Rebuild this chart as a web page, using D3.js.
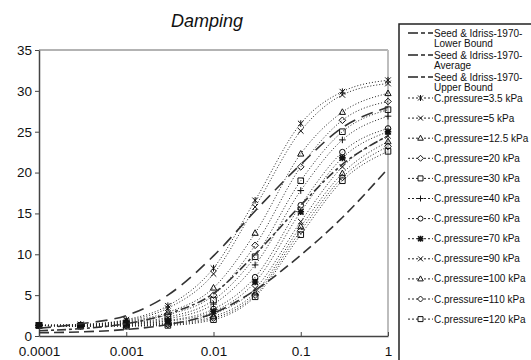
<!DOCTYPE html>
<html><head><meta charset="utf-8">
<script src="https://cdn.jsdelivr.net/npm/d3@7"></script>
<style>body{margin:0;background:#fff}svg{display:block;font-family:"Liberation Sans",Arial,sans-serif}</style>
</head><body><svg id="c" width="531" height="360"></svg>
<script>
const strains = [0.0001, 0.0003, 0.001, 0.003, 0.01, 0.03, 0.1, 0.3, 1];
const xTicks = [0.0001, 0.001, 0.01, 0.1, 1];
const xTickLabels = ["0.0001", "0.001", "0.01", "0.1", "1"];
const yTicks = [0, 5, 10, 15, 20, 25, 30, 35];

const seedLower   = [0.4, 0.5, 0.8, 1.4, 2.8, 5.6, 9.9, 14.5, 20.5];
const seedAverage = [0.65, 0.9, 1.5, 2.7, 5.2, 10.0, 16.0, 21.0, 24.5];
const seedUpper   = [0.95, 1.5, 2.5, 5.0, 9.8, 15.3, 21.0, 25.5, 28.0];
const seedNames = ["Seed & Idriss-1970-|Lower Bound", "Seed & Idriss-1970-|Average", "Seed & Idriss-1970-|Upper Bound"];

const cpNames = ["C.pressure=3.5 kPa", "C.pressure=5 kPa", "C.pressure=12.5 kPa", "C.pressure=20 kPa",
  "C.pressure=30 kPa", "C.pressure=40 kPa", "C.pressure=60 kPa", "C.pressure=70 kPa",
  "C.pressure=90 kPa", "C.pressure=100 kPa", "C.pressure=110 kPa", "C.pressure=120 kPa"];
const cpMarkers = ["star", "x", "triangle", "diamond", "square", "plus", "circle", "asterisk", "x", "triangle", "diamond", "square"];
const cp3_5 = [1.3, 1.4, 2.0, 3.7, 8.3, 16.6, 26.0, 29.9, 31.3];
const cp5   = [1.3, 1.4, 1.9, 3.4, 7.6, 15.8, 25.1, 29.5, 30.9];
const cp12_5= [1.3, 1.35, 1.8, 2.9, 5.9, 12.6, 22.3, 27.4, 29.7];
const cp20  = [1.3, 1.3, 1.7, 2.6, 5.0, 11.1, 20.7, 26.4, 28.7];
const cp30  = [1.3, 1.3, 1.6, 2.3, 4.4, 9.7, 19.0, 25.0, 27.7];
const cp40  = [1.3, 1.3, 1.55, 2.1, 3.9, 8.7, 17.8, 24.0, 26.9];
const cp60  = [1.3, 1.25, 1.5, 1.9, 3.3, 7.2, 16.0, 22.5, 25.4];
const cp70  = [1.3, 1.25, 1.45, 1.8, 3.0, 6.6, 15.2, 21.8, 25.0];
const cp90  = [1.3, 1.2, 1.4, 1.6, 2.7, 5.8, 14.0, 20.7, 24.5];
const cp100 = [1.3, 1.2, 1.3, 1.5, 2.4, 5.3, 13.4, 19.9, 23.8];
const cp110 = [1.3, 1.2, 1.25, 1.4, 2.2, 5.0, 12.9, 19.4, 23.2];
const cp120 = [1.3, 1.2, 1.2, 1.3, 2.0, 4.8, 12.4, 19.0, 22.6];
const cpValues = [cp3_5, cp5, cp12_5, cp20, cp30, cp40, cp60, cp70, cp90, cp100, cp110, cp120];

const svg = d3.select("#c");
const L = 39, R = 388, T = 50, B = 336;
const x = d3.scaleLog().domain([0.0001, 1]).range([L, R]);
const y = d3.scaleLinear().domain([0, 35]).range([B, T]);

// title
svg.append("text").attr("x", 207).attr("y", 27).attr("text-anchor", "middle")
  .attr("font-size", 18).attr("font-style", "italic").attr("fill", "#111").text("Damping");

// plot frame (top & right gray)
svg.append("line").attr("x1", L).attr("x2", R).attr("y1", T).attr("y2", T).attr("stroke", "#9a9a9a").attr("stroke-width", 1.5);
svg.append("line").attr("x1", R).attr("x2", R).attr("y1", T).attr("y2", B).attr("stroke", "#bdbdbd").attr("stroke-width", 2);

// axes
const yAxis = svg.append("g").attr("transform", `translate(${L},0)`)
  .call(d3.axisLeft(y).tickValues(yTicks).tickSize(4).tickSizeOuter(0).tickPadding(3));
const xAxis = svg.append("g").attr("transform", `translate(0,${B})`)
  .call(d3.axisBottom(x).tickValues(xTicks).tickFormat((d, i) => xTickLabels[i]).tickSize(-4).tickSizeOuter(0).tickPadding(10));
[yAxis, xAxis].forEach(g => {
  g.selectAll("path.domain").attr("stroke", "#444").attr("stroke-width", 1.5);
  g.selectAll(".tick line").attr("stroke", "#444");
  g.selectAll("text").attr("font-size", 13.5).attr("fill", "#111").attr("font-family", "Liberation Sans, Arial, sans-serif");
});

const line = d3.line().x((d, i) => x(strains[i])).y(d => y(d)).curve(d3.curveMonotoneX);

function markerPath(type, s) {
  switch (type) {
    case "star": return `M${-s},${-s}L${s},${s}M${-s},${s}L${s},${-s}M0,${-s - 0.5}L0,${s + 0.5}`;
    case "x": return `M${-s},${-s}L${s},${s}M${-s},${s}L${s},${-s}`;
    case "triangle": return `M0,${-s - 0.5}L${s + 0.3},${s - 0.5}L${-s - 0.3},${s - 0.5}Z`;
    case "diamond": return `M0,${-s - 0.5}L${s + 0.5},0L0,${s + 0.5}L${-s - 0.5},0Z`;
    case "square": return `M${-s},${-s}H${s}V${s}H${-s}Z`;
    case "plus": return `M${-s - 0.5},0H${s + 0.5}M0,${-s - 0.5}V${s + 0.5}`;
    case "circle": return `M${s},0A${s},${s} 0 1,1 ${-s},0A${s},${s} 0 1,1 ${s},0Z`;
    case "asterisk": return `M${-s},${-s}L${s},${s}M${-s},${s}L${s},${-s}M0,${-s - 0.5}L0,${s + 0.5}M${-s - 0.5},0H${s + 0.5}`;
  }
}

// C.pressure series
const cpG = svg.append("g");
cpValues.forEach((vals, k) => {
  cpG.append("path").attr("d", line(vals)).attr("fill", "none")
    .attr("stroke", "#222").attr("stroke-width", 1).attr("stroke-dasharray", "1,2");
});
cpValues.forEach((vals, k) => {
  cpG.selectAll(null).data(vals).join("path")
    .attr("transform", (d, i) => `translate(${x(strains[i])},${y(d)})`)
    .attr("d", markerPath(cpMarkers[k], 2.8)).attr("fill", "none")
    .attr("stroke", "#111").attr("stroke-width", cpMarkers[k] === "asterisk" ? 1.6 : 1);
});

// Seed & Idriss
const seedVals = [seedLower, seedAverage, seedUpper];
const seedDash = ["10,5", "9,3,3,3", "12,7"];
seedVals.forEach((vals, k) => {
  svg.append("path").attr("d", line(vals)).attr("fill", "none")
    .attr("stroke", "#333").attr("stroke-width", 1.6).attr("stroke-dasharray", seedDash[k]);
});

// legend
const lg = svg.append("g");
lg.append("rect").attr("x", 399).attr("y", 24).attr("width", 160).attr("height", 360).attr("fill", "#fff")
  .attr("stroke", "#222").attr("stroke-width", 1.5);
const sx0 = 408, sx1 = 433, tx = 434;
seedNames.forEach((n, k) => {
  const cy = 33 + k * 22;
  lg.append("line").attr("x1", sx0).attr("x2", sx1).attr("y1", cy).attr("y2", cy)
    .attr("stroke", "#222").attr("stroke-width", 1.6).attr("stroke-dasharray", "10,3,4,3,10");
  n.split("|").forEach((t, j) => {
    lg.append("text").attr("x", tx).attr("y", cy + 3.5 + j * 10).attr("font-size", 10).attr("fill", "#111").text(t);
  });
});
cpNames.forEach((n, k) => {
  const cy = 98 + k * 20.1;
  lg.append("line").attr("x1", sx0).attr("x2", sx1).attr("y1", cy).attr("y2", cy)
    .attr("stroke", "#222").attr("stroke-width", 1).attr("stroke-dasharray", "2,2");
  lg.append("path").attr("transform", `translate(${(sx0 + sx1) / 2},${cy})`)
    .attr("d", markerPath(cpMarkers[k], 2.5)).attr("fill", "#fff").attr("stroke", "#111")
    .attr("stroke-width", cpMarkers[k] === "asterisk" ? 1.5 : 1);
  lg.append("text").attr("x", tx).attr("y", cy + 3.5).attr("font-size", 10).attr("fill", "#111").text(n);
});
</script></body></html>
